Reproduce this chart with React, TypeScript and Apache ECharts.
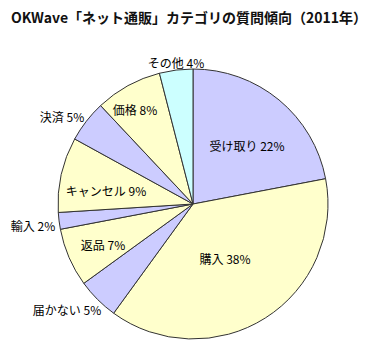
import React, { useEffect, useRef } from "react";
import * as echarts from "echarts";

const titleText = "OKWave「ネット通販」カテゴリの質問傾向（2011年）";
const categories = ["受け取り", "購入", "届かない", "返品", "輸入", "キャンセル", "決済", "価格", "その他"];
const values = [22, 38, 5, 7, 2, 9, 5, 8, 4];
const colors = ["#ccccff", "#ffffcc", "#ccccff", "#ffffcc", "#ccccff", "#ffffcc", "#ccccff", "#ffffcc", "#ccffff"];
// label anchor positions (pixels)
const labelX = [247, 225, 67, 103, 33, 106, 62, 135, 176];
const labelY = [145, 258, 309, 244, 225, 190, 116, 109, 62];

export default function App() {
  const ref = useRef<HTMLDivElement>(null);
  useEffect(() => {
    document.body.style.margin = "0";
    const chart = echarts.init(ref.current!, null, { renderer: "svg" });
    chart.setOption({
      animation: false,
      backgroundColor: "#ffffff",
      title: {
        text: titleText,
        left: "center",
        top: 5,
        textStyle: { fontSize: 14, fontWeight: "bold", color: "#111", fontFamily: "Noto Sans CJK JP" },
      },
      series: [
        {
          type: "pie",
          center: [193, 204],
          radius: [0, 135],
          startAngle: 90,
          clockwise: true,
          avoidLabelOverlap: false,
          data: categories.map((c, i) => ({
            name: c,
            value: values[i],
            itemStyle: { color: colors[i] },
          })),
          itemStyle: { borderColor: "#333", borderWidth: 1 },
          label: {
            show: true,
            position: "inside",
            formatter: (p: any) => `${p.name} ${p.value}%`,
            fontSize: 12,
            fontWeight: "normal",
            color: "#000",
            fontFamily: "Noto Sans CJK JP",
          },
          labelLine: { show: false },
          labelLayout: (p: any) => ({
            x: labelX[p.dataIndex],
            y: labelY[p.dataIndex],
            align: "center",
            verticalAlign: "middle",
          }),
          emphasis: { disabled: true },
        },
      ],
    });
    return () => chart.dispose();
  }, []);
  return <div ref={ref} style={{ width: 378, height: 349 }} />;
}
